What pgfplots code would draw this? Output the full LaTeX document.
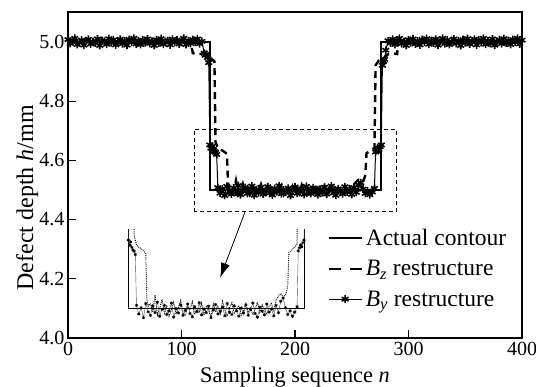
\documentclass[border=0pt]{standalone}
\usepackage{fontspec}
\setmainfont{Liberation Serif}
\usepackage{pgfplots}
\pgfplotsset{compat=1.18}
\usepackage{pgfplotstable}
\usetikzlibrary{arrows.meta}

% actual defect contour
\pgfplotstableread{
x y
0 5.0
125 5.0
125 4.5
276 4.5
276 5.0
400 5.0
}\actual

% contour restructured from Bz
\pgfplotstableread{
x y
0 5.002
6 4.998
12 5.004
18 4.997
24 5.001
30 5.003
36 4.996
42 5.002
48 4.999
54 5.004
60 4.997
66 5.001
72 5.003
78 4.998
84 5.002
90 4.996
96 5.003
102 4.999
108 5.001
110 4.962
114 4.958
118 4.960
122 4.952
126 4.944
129 4.935
130 4.662
132 4.641
134 4.636
136 4.633
138 4.628
140 4.622
141 4.521
142 4.506
144 4.512
146 4.493
148 4.531
150 4.487
152 4.502
154 4.521
156 4.491
158 4.508
160 4.484
162 4.497
164 4.515
166 4.489
168 4.503
170 4.519
172 4.492
174 4.485
176 4.507
178 4.498
180 4.516
182 4.488
184 4.501
186 4.494
188 4.513
190 4.486
192 4.505
194 4.497
196 4.482
198 4.511
200 4.493
202 4.506
204 4.489
206 4.517
208 4.498
210 4.484
212 4.503
214 4.514
216 4.490
218 4.499
220 4.508
222 4.486
224 4.495
226 4.512
228 4.491
230 4.504
232 4.487
234 4.500
236 4.515
238 4.493
240 4.509
242 4.496
244 4.488
246 4.506
248 4.512
250 4.497
252 4.519
254 4.528
256 4.534
258 4.526
260 4.531
261 4.538
262 4.552
263 4.624
266 4.631
268 4.637
270 4.642
271 4.921
274 4.938
278 4.945
282 4.958
286 4.961
290 4.959
291 5.002
296 4.998
302 5.003
308 4.997
314 5.002
320 4.999
326 5.004
332 4.996
338 5.001
344 5.003
350 4.998
356 5.002
362 4.997
368 5.004
374 4.999
380 5.001
386 4.996
392 5.003
398 4.999
400 5.002
}\bz

% contour restructured from By
\pgfplotstableread{
x y
0 5.008
2 4.995
4 5.003
6 5.012
8 4.991
10 4.998
12 5.006
14 4.989
16 5.004
18 5.009
20 4.993
22 5.001
24 4.996
26 5.010
28 4.988
30 5.005
32 5.002
34 4.992
36 5.011
38 4.997
40 5.007
42 4.990
44 5.000
46 5.009
48 4.994
50 5.003
52 4.989
54 5.008
56 4.999
58 5.012
60 4.993
62 5.004
64 4.991
66 5.006
68 4.997
70 5.010
72 4.995
74 5.002
76 4.988
78 5.007
80 4.996
82 5.011
84 4.992
86 5.001
88 5.005
90 4.990
92 5.009
94 4.998
96 5.006
98 4.993
100 5.003
102 5.012
104 4.991
106 5.004
108 4.995
110 5.008
112 4.999
114 5.010
116 4.994
118 5.002
120 4.962
121 4.955
122 4.958
123 4.947
124 4.930
125 4.652
126 4.641
127 4.648
128 4.636
129 4.630
130 4.627
131 4.620
132 4.508
134 4.489
136 4.503
138 4.481
140 4.512
142 4.494
144 4.486
146 4.507
148 4.492
150 4.515
152 4.484
154 4.499
156 4.508
158 4.488
160 4.496
162 4.513
164 4.482
166 4.501
168 4.491
170 4.509
172 4.486
174 4.497
176 4.511
178 4.490
180 4.483
182 4.505
184 4.494
186 4.514
188 4.487
190 4.500
192 4.492
194 4.506
196 4.481
198 4.498
200 4.510
202 4.489
204 4.495
206 4.504
208 4.485
210 4.512
212 4.493
214 4.488
216 4.507
218 4.496
220 4.484
222 4.502
224 4.491
226 4.509
228 4.486
230 4.499
232 4.513
234 4.490
236 4.482
238 4.504
240 4.495
242 4.487
244 4.511
246 4.493
248 4.500
250 4.485
252 4.508
254 4.492
256 4.517
258 4.524
260 4.503
262 4.488
264 4.496
266 4.484
268 4.493
270 4.505
271 4.628
272 4.635
273 4.641
274 4.637
275 4.646
276 4.652
277 4.921
278 4.934
279 4.941
280 4.972
282 5.004
284 4.996
286 5.009
288 4.991
290 5.005
292 5.012
294 4.994
296 5.001
298 4.988
300 5.007
302 4.997
304 5.010
306 4.993
308 5.003
310 4.990
312 5.008
314 4.999
316 5.011
318 4.992
320 5.005
322 4.996
324 5.009
326 4.989
328 5.002
330 5.012
332 4.994
334 5.006
336 4.991
338 5.000
340 5.010
342 4.995
344 5.004
346 4.988
348 5.008
350 4.997
352 5.011
354 4.993
356 5.003
358 5.009
360 4.990
362 5.006
364 4.998
366 5.012
368 4.992
370 5.004
372 4.995
374 5.010
376 4.989
378 5.001
380 5.007
382 4.994
384 5.011
386 4.996
388 5.005
390 4.991
392 5.008
394 4.999
396 5.012
398 4.993
400 5.006
}\by

\newcommand{\tickfont}{\fontsize{20}{22}\selectfont}
\newcommand{\xlabelfont}{\fontsize{22.3}{24}\selectfont}
\newcommand{\ylabelfont}{\fontsize{24}{26}\selectfont}
\newcommand{\legfont}{\fontsize{23.5}{26}\selectfont}

\begin{document}
\begin{tikzpicture}[x=1pt,y=1pt]
\path[use as bounding box] (-68,-49) rectangle (468,338);
\begin{axis}[
  at={(0pt,0pt)}, anchor=south west,
  scale only axis, width=454pt, height=326pt,
  xmin=0, xmax=400, ymin=4.0, ymax=5.101,
  xtick={0,100,200,300,400},
  ytick={4.0,4.2,4.4,4.6,4.8,5.0},
  xtick pos=bottom, ytick pos=left,
  tick align=inside, major tick length=8pt,
  tick style={black, line width=1.2pt},
  axis line style={line width=1.6pt},
  /pgf/number format/assume math mode=true,
  yticklabel style={/pgf/number format/.cd, fixed, fixed zerofill, precision=1},
  ticklabel style={font=\tickfont},
  xticklabel style={yshift=-1pt},
  xlabel={Sampling sequence \textit{n}},
  ylabel={Defect depth \textit{h}/mm},
  xlabel style={font=\xlabelfont, at={(axis description cs:0.5,-0.078)}, anchor=north},
  ylabel style={font=\ylabelfont, at={(axis description cs:-0.09,0.43)}, anchor=center},
  legend cell align=left,
  legend style={at={(0.571,0.338)}, anchor=north west, draw=none, fill=none,
    font=\legfont, row sep=11.5pt, inner sep=0pt,
    nodes={inner ysep=1pt, inner xsep=3pt}},
  legend image code/.code={\draw[mark repeat=2,mark phase=2,#1]
    plot coordinates {(0pt,0pt) (16.5pt,0pt) (33pt,0pt)};},
]
\addplot[black, line width=2.4pt] table {\actual};
\addlegendentry{Actual contour}
\addplot[black, line width=2.4pt, dash pattern=on 7pt off 5pt,
  legend image post style={dash pattern=on 12pt off 9pt}] table {\bz};
\addlegendentry{\textit{B}\textsubscript{\textit{z}} restructure}
\addplot[black, line width=1pt, mark=asterisk, mark size=3.9pt,
  mark options={line width=1.6pt}] table {\by};
\addlegendentry{\textit{B}\textsubscript{\textit{y}} restructure}
% zoom window and pointer to the enlarged view
\draw[black, line width=0.8pt, dash pattern=on 4pt off 3pt]
  (axis cs:111,4.426) rectangle (axis cs:289,4.706);
\draw[black, line width=0.8pt, -{Latex[length=15pt,width=9pt]}]
  (axis cs:156,4.426) -- (axis cs:134,4.203);
\end{axis}
% enlarged view of the bottom of the defect
\begin{axis}[
  at={(54.5pt,-2.8pt)}, anchor=south west,
  scale only axis, width=186.2pt, height=111.3pt,
  xmin=120, xmax=280, ymin=4.43, ymax=4.675,
  axis lines=none, ticks=none, clip=true,
]
\addplot[black, line width=1pt] table {\actual};
\addplot[black, line width=0.9pt, densely dotted] table {\bz};
\addplot[black!70, line width=0.4pt, mark=asterisk, mark size=1.6pt,
  mark options={black, line width=0.7pt}] table {\by};
\end{axis}
\end{tikzpicture}
\end{document}
